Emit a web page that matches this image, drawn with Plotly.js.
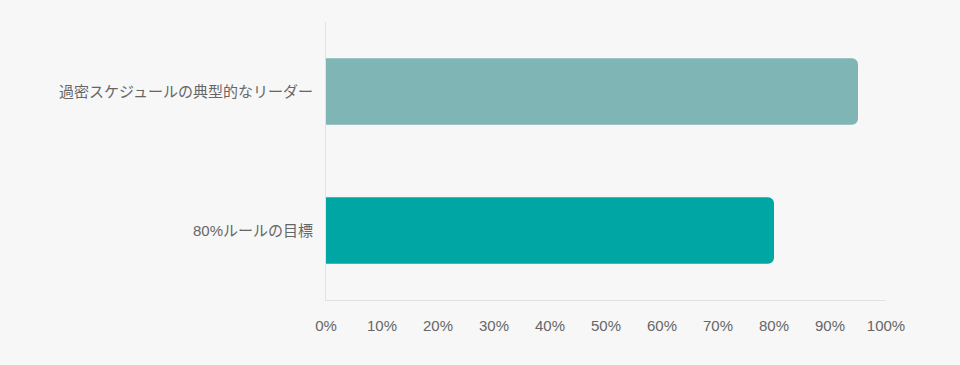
<!DOCTYPE html>
<html>
<head>
<meta charset="utf-8">
<script src="https://cdn.plot.ly/plotly-3.0.1.min.js"></script>
<style>html,body{margin:0;padding:0;background:#f7f7f7;}#chart{width:960px;height:365px;}</style>
</head>
<body>
<div id="chart"></div>
<script>
const categories = ["過密スケジュールの典型的なリーダー", "80%ルールの目標"];
const values = [95, 80];
const barColors = ["#80b5b5", "#00a6a4"];
const tickVals = [0, 10, 20, 30, 40, 50, 60, 70, 80, 90, 100];
const tickText = tickVals.map(v => v + "%");

const font = "'Helvetica Neue', 'Liberation Sans', 'Noto Sans CJK JP', sans-serif";

Plotly.newPlot("chart", [{
  type: "bar",
  orientation: "h",
  y: categories,
  x: values,
  marker: {color: barColors},
  width: 0.48,
  hoverinfo: "skip"
}], {
  width: 960, height: 365,
  paper_bgcolor: "#f7f7f7",
  plot_bgcolor: "#f7f7f7",
  margin: {l: 326, r: 74, t: 22, b: 65},
  barcornerradius: 6,
  showlegend: false,
  font: {family: font, color: "#666", size: 15},
  xaxis: {
    range: [0, 100],
    tickvals: tickVals,
    ticktext: tickText,
    showgrid: false,
    zeroline: false,
    showline: true,
    linecolor: "#e2e2e2",
    linewidth: 1,
    ticks: "outside",
    ticklen: 12,
    tickcolor: "rgba(0,0,0,0)",
    tickfont: {size: 15, color: "#666"},
    fixedrange: true
  },
  yaxis: {
    type: "category",
    autorange: "reversed",
    showgrid: false,
    zeroline: false,
    showline: true,
    linecolor: "#e2e2e2",
    linewidth: 1,
    ticks: "outside",
    ticklen: 9,
    tickcolor: "rgba(0,0,0,0)",
    tickfont: {size: 15, color: "#666"},
    fixedrange: true
  }
}, {displayModeBar: false, staticPlot: true});
</script>
</body>
</html>
